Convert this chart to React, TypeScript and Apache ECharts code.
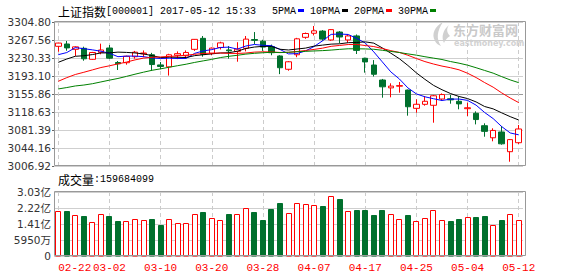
import React, { useEffect, useRef } from 'react';
import * as echarts from 'echarts';

const DATES = ['02-22','02-23','02-24','02-27','02-28','03-01','03-02','03-03','03-06','03-07','03-08','03-09','03-10','03-13','03-14','03-15','03-16','03-17','03-20','03-21','03-22','03-23','03-24','03-27','03-28','03-29','03-30','03-31','04-05','04-06','04-07','04-10','04-11','04-12','04-13','04-14','04-17','04-18','04-19','04-20','04-21','04-24','04-25','04-26','04-27','04-28','05-02','05-03','05-04','05-05','05-08','05-09','05-10','05-11','05-12'];

const OPEN = [3254.5,3259.3,3248.3,3250.4,3227.6,3242.0,3251.0,3221.0,3220.6,3233.0,3239.0,3237.0,3216.0,3212.0,3236.0,3235.0,3248.3,3271.0,3240.0,3252.0,3247.0,3244.0,3250.4,3268.5,3265.0,3253.7,3234.5,3207.0,3237.0,3273.1,3281.5,3286.0,3267.6,3284.0,3267.6,3276.0,3229.7,3215.8,3184.8,3168.5,3172.0,3164.0,3126.2,3134.5,3132.5,3145.5,3146.0,3140.8,3125.5,3116.0,3090.3,3065.3,3077.3,3036.5,3055.1];
const CLOSE = [3261.2,3251.2,3253.4,3228.7,3241.7,3246.9,3230.0,3218.3,3233.9,3242.4,3240.7,3216.8,3212.8,3237.0,3239.3,3241.8,3268.9,3237.5,3250.8,3261.6,3245.2,3248.6,3269.4,3266.9,3252.9,3241.3,3210.2,3222.5,3270.0,3281.0,3286.6,3269.4,3289.0,3273.8,3276.0,3246.1,3222.2,3196.7,3170.7,3172.2,3173.2,3129.5,3134.6,3140.8,3152.2,3154.7,3143.7,3135.4,3127.4,3103.0,3078.6,3080.5,3052.8,3061.5,3083.5];
const LOW = [3243.4,3245.4,3234.5,3224.7,3226.5,3238.0,3228.3,3205.5,3216.5,3229.0,3232.0,3204.0,3207.0,3194.0,3228.0,3232.0,3245.0,3233.0,3236.0,3248.0,3229.0,3222.7,3244.0,3259.0,3245.0,3236.0,3197.0,3204.0,3232.0,3270.0,3277.0,3266.0,3266.0,3260.7,3262.0,3238.6,3200.0,3192.0,3148.2,3149.0,3158.6,3111.0,3117.2,3131.7,3096.5,3142.0,3135.8,3124.2,3110.3,3093.0,3067.5,3058.0,3051.0,3015.8,3052.4];
const HIGH = [3262.0,3265.5,3254.5,3253.7,3243.0,3260.0,3257.2,3224.0,3235.1,3245.0,3246.0,3241.0,3222.0,3239.0,3244.0,3246.0,3269.5,3275.8,3252.0,3264.0,3255.0,3263.0,3275.8,3284.0,3268.0,3258.0,3236.0,3224.0,3272.0,3283.0,3296.5,3288.0,3290.0,3286.0,3279.0,3279.0,3231.0,3226.0,3187.0,3178.0,3180.7,3165.0,3144.9,3151.7,3153.8,3157.0,3153.8,3150.3,3137.9,3120.0,3095.2,3084.9,3089.7,3062.8,3091.7];

// volume in 亿
const VOLUME = [2.07,2.08,1.88,1.81,1.51,1.92,1.83,1.58,1.56,1.65,1.61,1.66,1.37,1.66,1.46,1.46,1.92,2.03,1.71,1.61,1.93,1.93,2.22,2.02,1.63,2.17,2.49,1.97,2.47,2.42,2.37,2.34,2.83,2.68,2.07,2.13,2.13,1.88,2.13,1.92,1.66,1.88,1.56,1.71,2.12,1.61,1.58,1.68,1.76,1.78,1.83,1.37,1.63,1.93,1.597];

const MA5 = [3237.2,3241.6,3251.8,3249.6,3247.2,3244.4,3240.1,3233.1,3234.2,3234.3,3233.1,3230.4,3229.3,3229.9,3229.3,3229.5,3240.0,3244.9,3247.7,3252.1,3252.8,3248.7,3255.1,3258.3,3256.6,3255.8,3248.1,3238.8,3239.4,3245.0,3254.1,3265.9,3279.2,3280.0,3279.0,3270.9,3261.4,3243.0,3222.3,3201.6,3187.0,3168.5,3156.0,3150.1,3146.1,3142.4,3145.2,3145.4,3142.7,3132.8,3117.6,3105.0,3088.5,3075.3,3071.4];
const MA10 = [3221.4,3228.2,3233.9,3235.0,3237.4,3240.8,3240.9,3242.5,3241.9,3240.8,3238.7,3235.3,3231.2,3232.1,3231.8,3231.3,3235.2,3237.1,3238.8,3240.7,3241.2,3244.4,3250.0,3253.0,3254.4,3254.3,3248.4,3246.9,3248.9,3250.8,3254.9,3257.0,3259.0,3259.7,3262.0,3262.5,3263.7,3261.1,3251.2,3240.3,3228.9,3214.9,3199.5,3186.2,3173.8,3164.7,3156.8,3150.7,3146.4,3139.5,3130.0,3125.1,3116.9,3109.0,3102.1];
const MA20 = [3182.2,3189.7,3196.2,3200.8,3205.7,3210.6,3214.2,3218.1,3221.9,3226.4,3230.1,3231.7,3232.5,3233.5,3234.6,3236.1,3238.0,3239.8,3240.3,3240.7,3239.9,3239.8,3240.6,3242.5,3243.1,3242.8,3241.8,3242.0,3243.8,3245.8,3248.1,3250.7,3254.5,3256.3,3258.2,3258.4,3256.1,3254.0,3250.0,3245.5,3241.9,3236.0,3229.2,3222.9,3217.9,3213.6,3210.2,3205.9,3198.8,3189.9,3179.5,3170.0,3158.2,3147.6,3138.0];
const MA30 = [3166.3,3169.2,3172.5,3174.4,3177.1,3180.8,3184.5,3188.0,3192.3,3196.8,3201.0,3204.9,3207.9,3211.2,3214.4,3217.5,3221.2,3224.4,3227.5,3231.2,3233.8,3235.9,3238.4,3240.0,3241.2,3242.1,3241.5,3242.2,3243.2,3244.1,3244.9,3245.6,3246.7,3248.2,3249.4,3249.4,3249.1,3248.4,3246.3,3243.9,3241.7,3238.8,3236.2,3233.0,3230.1,3227.2,3223.0,3219.6,3215.5,3210.2,3204.6,3199.0,3191.8,3185.0,3179.3];

const PRICE_TICKS = [3006.92,3044.16,3081.39,3118.63,3155.86,3193.10,3230.33,3267.56,3304.80];
const VOL_TICKS = [-0.2175,0.595,1.4075,2.22,3.0325];
const VOL_TICK_LABELS = ['0','5950万','1.41亿','2.22亿','3.03亿'];

const TITLE_CN = '上证指数';
const TITLE_EN = '[000001] 2017-05-12 15:33';
const VOL_TITLE_CN = '成交量';
const VOL_TITLE_EN = ':159684099';
const MA_NAMES = ['5PMA','10PMA','20PMA','30PMA'];
const MA_COLORS = ['#0000ff','#000000','#ff0000','#008000'];
const WATERMARK_CN = '东方财富网';
const WATERMARK_EN = 'eastmoney.com';

const RED = '#ff0000';
const GREEN = '#00702d';
const GRID_LEFT = 54;
const GRID_WIDTH = 469;

let logoRegistered = false;
function registerLogo() {
  if (logoRegistered) return;
  logoRegistered = true;
  const d = 'M13 0 C5 4 1 12 5 19 C6 21 8 23 11 24 C6 17 7 9 13 0 Z M19 3 C13 8 11 15 14 21 C15 18 17 16 20 14 C17 11 16 7 19 3 Z';
  echarts.graphic.registerShape('emlogo', echarts.graphic.extendPath(d as any, {}) as any);
}

export default function App() {
  const ref = useRef<HTMLDivElement>(null);
  useEffect(() => {
    if (!ref.current) return;
    registerLogo();
    const chart = echarts.init(ref.current, null, { renderer: 'svg' });
    const candles = OPEN.map((o, i) => [o, CLOSE[i], LOW[i], HIGH[i]]);
    const volData = VOLUME.map((v, i) => [i, v, CLOSE[i] >= OPEN[i] ? 1 : 0]);
    const mono = '"Liberation Mono", "DejaVu Sans Mono", monospace';
    const cjk = '"Noto Sans CJK SC", sans-serif';
    const hSplit = PRICE_TICKS.map((_, i) => (i === 4 ? '#999999' : '#cfcfcf'));
    const dashed = { show: true, interval: 5, alignWithLabel: true, lineStyle: { color: '#cccccc', type: [4, 3], width: 1 } };
    const maSeries = [MA5, MA10, MA20, MA30].map((d, k) => ({
      type: 'line', name: MA_NAMES[k], data: d, xAxisIndex: 0, yAxisIndex: 0,
      symbol: 'none', showSymbol: false, smooth: false,
      lineStyle: { width: 1, color: MA_COLORS[k] }, itemStyle: { color: MA_COLORS[k] }, z: 4,
    }));
    const legendX = [272, 310, 354, 398];
    const legendW = [24, 30, 30, 30];
    const legendGraphics: any[] = [];
    MA_NAMES.forEach((n, k) => {
      legendGraphics.push({ type: 'text', x: legendX[k], y: 11, silent: true,
        style: { text: n, font: '10px ' + mono, fill: '#000', textVerticalAlign: 'middle' } });
      legendGraphics.push({ type: 'rect', silent: true,
        shape: { x: legendX[k] + legendW[k] + 2, y: 9, width: 6, height: 3 },
        style: { fill: MA_COLORS[k] } });
    });
    const option: any = {
      animation: false,
      backgroundColor: '#ffffff',
      grid: [
        { left: GRID_LEFT, top: 22, width: GRID_WIDTH, height: 144, show: false },
        { left: GRID_LEFT, top: 192, width: GRID_WIDTH, height: 64, show: false },
      ],
      xAxis: [
        { type: 'category', gridIndex: 0, data: DATES, boundaryGap: true,
          axisLine: { show: false }, axisTick: { show: false }, axisLabel: { show: false },
          splitLine: dashed },
        { type: 'category', gridIndex: 1, data: DATES, boundaryGap: true,
          axisLine: { show: false }, axisTick: { show: false },
          axisLabel: { show: true, interval: 5, color: RED, fontFamily: mono, fontSize: 11, margin: 6, alignMinLabel: 'left' },
          splitLine: dashed },
      ],
      yAxis: [
        { type: 'value', gridIndex: 0, min: PRICE_TICKS[0], max: PRICE_TICKS[PRICE_TICKS.length - 1],
          axisLine: { show: false },
          axisTick: { show: true, length: 2, customValues: PRICE_TICKS, lineStyle: { color: '#666' } },
          axisLabel: { customValues: PRICE_TICKS, formatter: (v: number) => v.toFixed(2), color: '#333', fontFamily: '"DejaVu Sans", sans-serif', fontSize: 10.5, margin: 3 },
          splitLine: { show: true, lineStyle: { color: hSplit, width: 1 } } },
        { type: 'value', gridIndex: 1, min: VOL_TICKS[0], max: VOL_TICKS[VOL_TICKS.length - 1],
          axisLine: { show: false },
          axisTick: { show: false, customValues: VOL_TICKS },
          axisLabel: { customValues: VOL_TICKS, color: '#333', fontFamily: '"DejaVu Sans", "Noto Sans CJK SC", sans-serif', fontSize: 10.5, margin: 3,
            formatter: (v: number) => {
              let best = 0;
              VOL_TICKS.forEach((t, i) => { if (Math.abs(t - v) < Math.abs(VOL_TICKS[best] - v)) best = i; });
              return VOL_TICK_LABELS[best];
            } },
          splitLine: { show: true, lineStyle: { color: '#cfcfcf', width: 1 } } },
      ],
      series: [
        { type: 'candlestick', name: 'K', data: candles, xAxisIndex: 0, yAxisIndex: 0, barWidth: 6, z: 3,
          itemStyle: { color: '#ffffff', color0: GREEN, borderColor: RED, borderColor0: GREEN, borderWidth: 1 } },
        ...maSeries,
        { type: 'custom', name: 'VOL', data: volData, xAxisIndex: 1, yAxisIndex: 1, encode: { x: 0, y: 1 }, z: 3,
          renderItem: (params: any, api: any) => {
            const idx = api.value(0);
            const v = api.value(1);
            const up = api.value(2);
            const top = api.coord([idx, v]);
            const base = api.coord([idx, VOL_TICKS[0]]);
            const w = 6;
            const x = Math.round(top[0] - w / 2) + 0.5;
            const y = Math.round(top[1]) + 0.5;
            return {
              type: 'rect',
              shape: { x, y, width: w - 1, height: base[1] - y },
              style: up ? { fill: '#ffffff', stroke: RED, lineWidth: 1 } : { fill: GREEN, stroke: GREEN, lineWidth: 1 },
            };
          } },
      ],
      graphic: [
        { type: 'rect', silent: true, z: 100, shape: { x: 54.5, y: 21.5, width: 471, height: 144 }, style: { fill: 'none', stroke: '#999', lineWidth: 1 } },
        { type: 'rect', silent: true, z: 100, shape: { x: 54.5, y: 191.5, width: 471, height: 64 }, style: { fill: 'none', stroke: '#999', lineWidth: 1 } },
        { type: 'text', x: 58, y: 11, silent: true,
          style: { text: '{a|' + TITLE_CN + '}{b|' + TITLE_EN + '}', textVerticalAlign: 'middle',
            rich: { a: { font: '12px ' + cjk, fill: '#000' }, b: { font: '10px ' + mono, fill: '#000' } } } },
        { type: 'text', x: 58, y: 179, silent: true,
          style: { text: '{a|' + VOL_TITLE_CN + '}{b|' + VOL_TITLE_EN + '}', textVerticalAlign: 'middle',
            rich: { a: { font: '12px ' + cjk, fill: '#000' }, b: { font: '10px ' + mono, fill: '#000' } } } },
        ...legendGraphics,
        { type: 'emlogo', x: 430, y: 22, scaleX: 1, scaleY: 1, silent: true, z: 0, style: { fill: '#d0d0d0' } },
        { type: 'text', x: 453, y: 29, silent: true, z: 0, style: { text: WATERMARK_CN, font: 'bold 13px ' + cjk, fill: '#c9c9c9', textVerticalAlign: 'middle' } },
        { type: 'text', x: 454, y: 43, silent: true, z: 0, style: { text: WATERMARK_EN, font: 'bold 8px "DejaVu Sans", sans-serif', fill: '#d2d2d2', textVerticalAlign: 'middle' } },
      ],
    };
    chart.setOption(option);
    return () => chart.dispose();
  }, []);
  return <div ref={ref} style={{ position: 'fixed', left: 0, top: 0, width: 578, height: 276 }} />;
}
